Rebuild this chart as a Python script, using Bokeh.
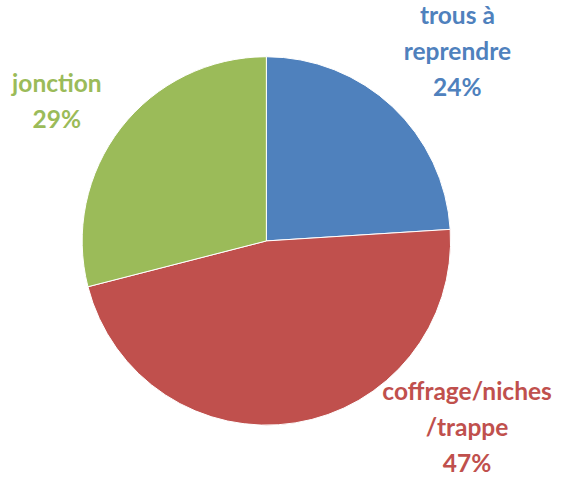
import math
from bokeh.plotting import figure
from bokeh.models import Range1d, ColumnDataSource
from bokeh.core.properties import value
from bokeh.embed import file_html
from bokeh.resources import INLINE

categories = ["trous à\nreprendre", "coffrage/niches\n/trappe", "jonction"]
percents = [24, 47, 29]
colors = ["#4F81BD", "#C0504D", "#9BBB59"]

# layout (label block centres, in reference-image pixel units)
label_x = [470, 480, 58]
label_y = [52, 440, 103]

W, H = 557, 477
p = figure(width=W, height=H, output_backend="svg", toolbar_location=None,
           x_range=Range1d(0, 573), y_range=Range1d(-493, 0),
           min_border=0)
p.axis.visible = False
p.grid.visible = False
p.outline_line_color = None
p.background_fill_color = "white"
p.border_fill_color = "white"

total = sum(percents)
starts, ends = [], []
a = math.pi / 2
for v in percents:
    s = a
    e = a - 2 * math.pi * v / total
    starts.append(e)
    ends.append(s)
    a = e

src = ColumnDataSource(dict(start=starts, end=ends, color=colors))
p.wedge(x=273.5, y=-248.5, radius=189.5, start_angle="start", end_angle="end",
        color="color", line_color="white", line_width=1, source=src)

texts = [f"{c}\n{v}%" for c, v in zip(categories, percents)]
tsrc = ColumnDataSource(dict(x=label_x, y=[-v for v in label_y], text=texts, color=colors))
p.text(x="x", y="y", text="text", text_color="color", source=tsrc,
       text_font=value("Lato"), text_font_style="bold", text_font_size="24.5px",
       text_align="center", text_baseline="middle", text_line_height=1.24)

open("out.html", "w").write(file_html(p, INLINE))
